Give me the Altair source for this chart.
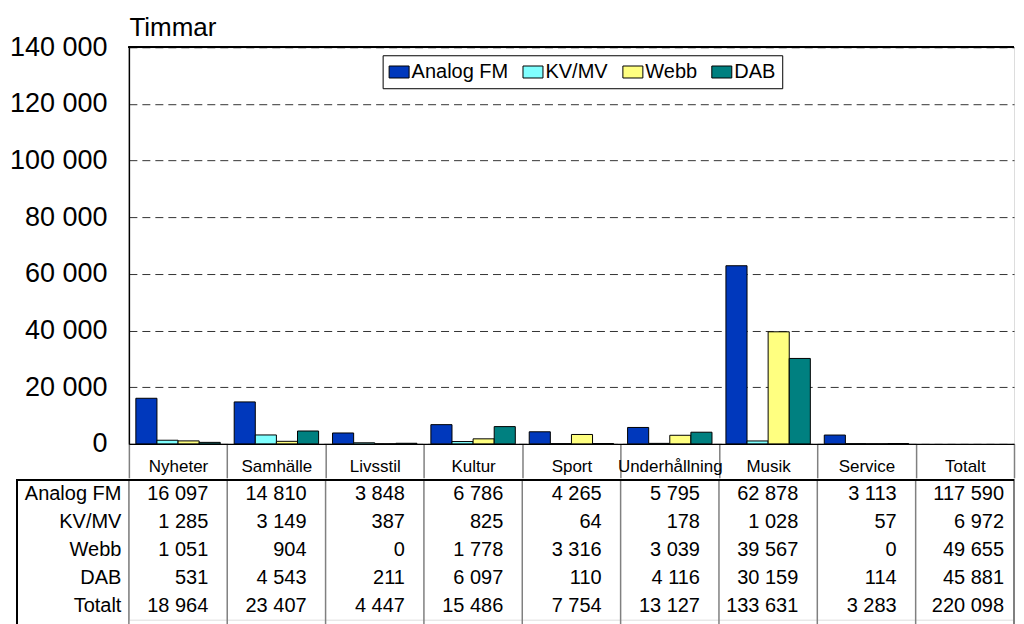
import altair as alt
import pandas as pd

categories = ["Nyheter", "Samhälle", "Livsstil", "Kultur", "Sport",
              "Underhållning", "Musik", "Service", "Totalt"]
series = ["Analog FM", "KV/MV", "Webb", "DAB"]
colors = ["#0038BC", "#80FFFF", "#FFFF80", "#008080"]

analog_fm = [16097, 14810, 3848, 6786, 4265, 5795, 62878, 3113, 117590]
kv_mv = [1285, 3149, 387, 825, 64, 178, 1028, 57, 6972]
webb = [1051, 904, 0, 1778, 3316, 3039, 39567, 0, 49655]
dab = [531, 4543, 211, 6097, 110, 4116, 30159, 114, 45881]
totalt = [18964, 23407, 4447, 15486, 7754, 13127, 133631, 3283, 220098]

row_names = ["Analog FM", "KV/MV", "Webb", "DAB", "Totalt"]
y_ticks = [0, 20000, 40000, 60000, 80000, 100000, 120000, 140000]

FONT = "Liberation Sans"
W = 886
H_BARS = 397
H_TABLE = 140

series_values = {"Analog FM": analog_fm, "KV/MV": kv_mv, "Webb": webb, "DAB": dab}

# bars (Totalt category has no bars in the chart)
bar_rows = []
for s in series:
    for c, v in zip(categories, series_values[s]):
        if c != "Totalt":
            bar_rows.append({"cat": c, "series": s, "value": v})
bars_df = pd.DataFrame(bar_rows)

# table
def fmt(v):
    return f"{v:,}".replace(",", " ")

table_values = {"Analog FM": analog_fm, "KV/MV": kv_mv, "Webb": webb, "DAB": dab, "Totalt": totalt}
table_rows = []
for r in row_names:
    for c, v in zip(categories, table_values[r]):
        table_rows.append({"cat": c, "row": r, "label": fmt(v)})
table_df = pd.DataFrame(table_rows)

x_scale = alt.Scale(domain=categories, paddingInner=0, paddingOuter=0)
row_scale = alt.Scale(domain=row_names, paddingInner=0, paddingOuter=0)

bars = alt.Chart(bars_df).mark_bar(stroke="black", strokeWidth=1).encode(
    x=alt.X("cat:N", scale=x_scale, sort=categories,
            axis=alt.Axis(title=None, labelAngle=0, labelFontSize=17,
                          labelBaseline="middle", labelPadding=-11,
                          tickBand="extent", tickSize=34, tickColor="#808080",
                          tickWidth=1.5, domainColor="black", domainWidth=1.5,
                          labelColor="black", labelFont=FONT)),
    xOffset=alt.XOffset("series:N", sort=series,
                        scale=alt.Scale(domain=series, paddingInner=0, paddingOuter=0.33)),
    y=alt.Y("value:Q", scale=alt.Scale(domain=[0, 140000], nice=False),
            axis=alt.Axis(values=y_ticks, title="Timmar", titleAngle=0,
                          titleAlign="left", titleBaseline="alphabetic",
                          titleX=0, titleY=-12, titleFontSize=26,
                          titleFontWeight="normal", titleColor="black",
                          titleFont=FONT,
                          labelFontSize=27, labelFont=FONT, labelColor="black",
                          labelPadding=22, ticks=False,
                          labelExpr="datum.value == 0 ? '0' : format(datum.value / 1000, 'd') + ' 000'",
                          domainColor="black", domainWidth=1.5,
                          grid=True, gridColor="#333333", gridDash=[8, 5], gridWidth=1)),
    color=alt.Color("series:N", sort=series,
                    scale=alt.Scale(domain=series, range=colors),
                    legend=alt.Legend(title=None, orient="none", direction="horizontal",
                                      legendX=254, legendY=8,
                                      strokeColor="black", fillColor="white",
                                      padding=6, labelFontSize=20, labelFont=FONT,
                                      labelColor="black", labelOffset=2,
                                      columnPadding=12,
                                      symbolType="M-1,-0.6H1V0.6H-1Z",
                                      symbolSize=400, symbolStrokeColor="black",
                                      symbolStrokeWidth=1, symbolOpacity=1)),
)

top_border = alt.Chart(bars_df).mark_rule(color="black", strokeWidth=1.5).encode(
    y=alt.datum(140000)
)

bar_chart = alt.layer(bars, top_border).properties(width=W, height=H_BARS)

row_axis = alt.Axis(title=None, labelFontSize=20, labelFont=FONT, labelColor="black",
                    labelPadding=8, ticks=False, domain=False, grid=False)

values_txt = alt.Chart(table_df).mark_text(
    align="right", baseline="middle", fontSize=20, font=FONT, color="black", dx=-19
).transform_filter(alt.datum.cat != "Totalt").encode(
    x=alt.X("cat:N", scale=x_scale, sort=categories, bandPosition=1, axis=None),
    y=alt.Y("row:N", sort=row_names, scale=row_scale, axis=row_axis),
    text="label:N",
)

total_col = alt.Chart(table_df).mark_text(
    align="right", baseline="middle", fontSize=20, font=FONT, color="black", dx=-10
).transform_filter(alt.datum.cat == "Totalt").encode(
    x=alt.X("cat:N", scale=x_scale, sort=categories, bandPosition=1, axis=None),
    y=alt.Y("row:N", sort=row_names, scale=row_scale, axis=row_axis),
    text="label:N",
)

# vertical separators at each category's left boundary, plus the right edge
vgrid = alt.Chart(table_df).mark_rule(color="#808080", strokeWidth=1.5).transform_filter(
    alt.datum.row == "Totalt"
).encode(
    x=alt.X("cat:N", scale=x_scale, sort=categories, bandPosition=0, axis=None),
    y=alt.value(0), y2=alt.value(H_TABLE + 8)
)
vright = alt.Chart(table_df).mark_rule(color="#808080", strokeWidth=1.5).encode(
    x=alt.value(W), y=alt.value(0), y2=alt.value(H_TABLE + 8)
)

hline = alt.Chart(table_df).mark_rule(color="black", strokeWidth=1.5).encode(
    x=alt.value(-112), x2=alt.value(W), y=alt.value(0)
)
vline = alt.Chart(table_df).mark_rule(color="black", strokeWidth=1.5).encode(
    x=alt.value(-112), y=alt.value(0), y2=alt.value(H_TABLE + 8)
)

table_chart = alt.layer(values_txt, total_col, vgrid, vright, hline, vline).properties(
    width=W, height=H_TABLE)

chart = alt.vconcat(bar_chart, table_chart, spacing=-3).properties(
    padding={"left": 0, "top": 5, "right": 0, "bottom": 0}
).configure_view(stroke=None).configure(font=FONT)

chart.save("out.html", embed_options={"renderer": "svg", "actions": False})
